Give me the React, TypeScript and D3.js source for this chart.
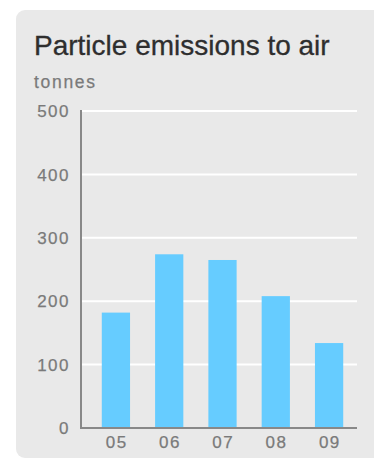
import React from 'react'
import * as d3 from 'd3'

const years = ['05', '06', '07', '08', '09']
const tonnes = [182, 274, 265, 208, 134]
const yTicks = [0, 100, 200, 300, 400, 500]

const W = 374
const H = 459

const App = () => {
  const x = d3.scaleBand<string>().domain(years).range([89, 356]).paddingInner(0.47).paddingOuter(0.24)
  const y = d3.scaleLinear().domain([0, 500]).range([428, 111])
  const font = "'Liberation Sans', Arial, Helvetica, sans-serif"

  return (
    <svg width={W} height={H} style={{ position: 'absolute', left: 0, top: 0 }} fontFamily={font}>
      <rect x={16} y={10} width={366} height={448} rx={9} fill="#e9e9e9" />
      <text x={34} y={55} fontSize={28} fill="#2e2e2e" stroke="#2e2e2e" strokeWidth={0.3}>Particle emissions to air</text>
      <text x={34} y={88} fontSize={17.5} fill="#7a7a7a" stroke="#7a7a7a" strokeWidth={0.25} letterSpacing={1.7}>tonnes</text>

      {yTicks.filter(t => t > 0).map(t => (
        <line key={t} x1={81} x2={357} y1={y(t)} y2={y(t)} stroke="#fff" strokeWidth={2} />
      ))}
      {years.map((yr, i) => (
        <rect key={yr} x={x(yr)} y={y(tonnes[i])} width={x.bandwidth()} height={y(0) - y(tonnes[i])} fill="#66ccff" />
      ))}
      <line x1={81} x2={81} y1={110} y2={429} stroke="#888" strokeWidth={2} />
      <line x1={80} x2={357} y1={428} y2={428} stroke="#888" strokeWidth={2} />

      {yTicks.map(t => (
        <text key={t} x={70} y={y(t)} dy="0.36em" textAnchor="end" fontSize={17} fill="#7a7a7a" stroke="#7a7a7a" strokeWidth={0.25} letterSpacing={1.5}>{t}</text>
      ))}
      {years.map(yr => (
        <text key={yr} x={(x(yr) ?? 0) + x.bandwidth() / 2 + 0.75} y={442} dy="0.36em" textAnchor="middle" fontSize={17} fill="#7a7a7a" stroke="#7a7a7a" strokeWidth={0.25} letterSpacing={1.5}>{yr}</text>
      ))}
    </svg>
  )
}

export default App
